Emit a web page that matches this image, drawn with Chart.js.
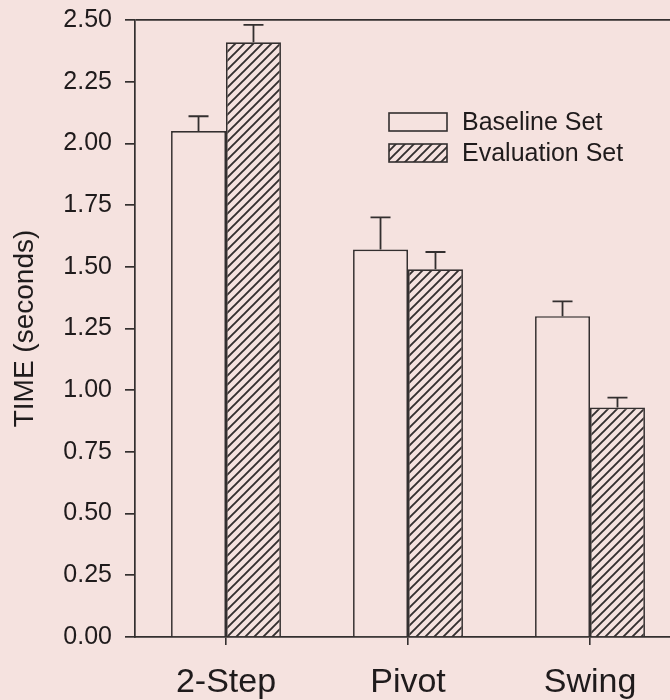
<!DOCTYPE html>
<html>
<head>
<meta charset="utf-8">
<script src="https://cdn.jsdelivr.net/npm/chart.js@4.4.1/dist/chart.umd.min.js"></script>
<style>
  html, body { margin: 0; padding: 0; background: #f5e2df; overflow: hidden; }
  canvas { display: block; }
</style>
</head>
<body>
<canvas id="chart" width="700" height="700"></canvas>
<script>
// data
const categories = ["2-Step", "Pivot", "Swing"];
const baselineMeans = [2.05, 1.57, 1.30];
const baselineErr = [0.06, 0.13, 0.06];
const evaluationMeans = [2.41, 1.49, 0.93];
const evaluationErr = [0.07, 0.07, 0.04];
const seriesNames = ["Baseline Set", "Evaluation Set"];
const yMin = 0, yMax = 2.5, yStep = 0.25;

const BG = "#f5e2df";
const INK = "#332f2f";
const TEXT = "#1f1b1c";
const FONT = "'Liberation Sans', Arial, sans-serif";

// diagonal hatch pattern for the evaluation bars
function makeHatch() {
  const size = 9;
  const c = document.createElement("canvas");
  c.width = size;
  c.height = size;
  const g = c.getContext("2d");
  g.fillStyle = BG;
  g.fillRect(0, 0, size, size);
  g.strokeStyle = INK;
  g.lineWidth = 1.9;
  g.beginPath();
  g.moveTo(0, size); g.lineTo(size, 0);
  g.moveTo(-1, 1); g.lineTo(1, -1);
  g.moveTo(size - 1, size + 1); g.lineTo(size + 1, size - 1);
  g.stroke();
  return document.getElementById("chart").getContext("2d").createPattern(c, "repeat");
}
const hatch = makeHatch();

// error bars (upper only) drawn from the bar elements
const errorBars = {
  id: "errorBars",
  afterDatasetsDraw(chart) {
    const ctx = chart.ctx;
    const y = chart.scales.y;
    ctx.save();
    ctx.strokeStyle = INK;
    ctx.lineWidth = 1.8;
    chart.data.datasets.forEach((ds, i) => {
      const meta = chart.getDatasetMeta(i);
      meta.data.forEach((bar, j) => {
        const top = y.getPixelForValue(ds.data[j]);
        const cap = y.getPixelForValue(ds.data[j] + ds.errors[j]);
        ctx.beginPath();
        ctx.moveTo(bar.x, top);
        ctx.lineTo(bar.x, cap);
        ctx.moveTo(bar.x - 10, cap);
        ctx.lineTo(bar.x + 10, cap);
        ctx.stroke();
      });
    });
    ctx.restore();
  }
};

// legend drawn inside the plot, stacked vertically
const boxLegend = {
  id: "boxLegend",
  afterDraw(chart) {
    const ctx = chart.ctx;
    const x0 = 389, y0 = 113, boxW = 58, boxH = 18, rowGap = 31;
    ctx.save();
    ctx.font = "25px " + FONT;
    ctx.textBaseline = "middle";
    chart.data.datasets.forEach((ds, i) => {
      const top = y0 + i * rowGap;
      ctx.fillStyle = ds.backgroundColor;
      ctx.fillRect(x0, top, boxW, boxH);
      ctx.strokeStyle = INK;
      ctx.lineWidth = 1.6;
      ctx.strokeRect(x0, top, boxW, boxH);
      ctx.fillStyle = TEXT;
      ctx.fillText(ds.label, x0 + 73, top + boxH / 2 + 1);
    });
    ctx.restore();
  }
};

new Chart(document.getElementById("chart"), {
  type: "bar",
  data: {
    labels: categories,
    datasets: [
      {
        label: seriesNames[0],
        data: baselineMeans,
        errors: baselineErr,
        backgroundColor: BG,
        borderColor: INK,
        borderWidth: 1.7
      },
      {
        label: seriesNames[1],
        data: evaluationMeans,
        errors: evaluationErr,
        backgroundColor: hatch,
        borderColor: INK,
        borderWidth: 1.7
      }
    ]
  },
  plugins: [errorBars, boxLegend],
  options: {
    responsive: false,
    animation: false,
    categoryPercentage: 0.604,
    barPercentage: 1.0,
    layout: { padding: { top: 20, right: 19, left: 0, bottom: 0 } },
    plugins: {
      legend: { display: false },
      tooltip: { enabled: false }
    },
    scales: {
      x: {
        afterFit: (axis) => { axis.height = 63; },
        grid: {
          offset: false,
          drawOnChartArea: false,
          tickLength: 8,
          tickColor: INK,
          lineWidth: 1.6
        },
        border: { display: true, color: INK, width: 1.7 },
        ticks: {
          padding: 17,
          color: TEXT,
          font: { family: FONT, size: 34 }
        }
      },
      y: {
        min: yMin,
        max: yMax,
        afterFit: (axis) => {
          axis.width = 135;
          // let layout padding alone decide the top of the plot
          axis.paddingTop = 0;
          axis.paddingBottom = 0;
        },
        grid: {
          // only the top (2.50) line runs across the plot
          color: (c) => (c.tick && c.tick.value === yMax ? INK : "rgba(0,0,0,0)"),
          tickColor: INK,
          tickLength: 10,
          lineWidth: 1.7
        },
        border: { display: true, color: INK, width: 1.7 },
        ticks: {
          stepSize: yStep,
          padding: 13,
          color: TEXT,
          font: { family: FONT, size: 25 },
          callback: (v) => Number(v).toFixed(2)
        },
        title: {
          display: true,
          text: "TIME (seconds)",
          color: TEXT,
          font: { family: FONT, size: 28 },
          padding: { top: 8, bottom: 0 }
        }
      }
    }
  }
});
</script>
</body>
</html>
